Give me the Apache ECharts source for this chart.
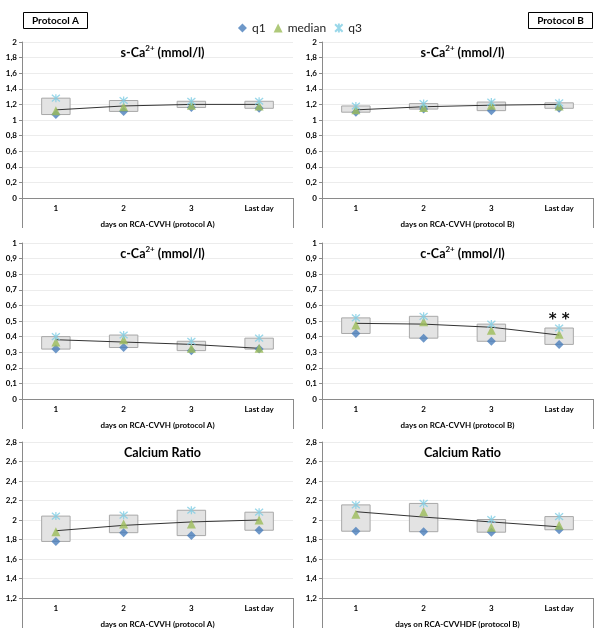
<!DOCTYPE html>
<html>
<head>
<meta charset="utf-8">
<script src="https://cdn.jsdelivr.net/npm/echarts@6/dist/echarts.min.js"></script>
<style>
  html, body { margin: 0; padding: 0; background: #fff; }
  #main { width: 600px; height: 639px; }
</style>
</head>
<body>
<div id="main"></div>
<script>
const days = ["1", "2", "3", "Last day"];

// s-Ca2+ (mmol/l)
const sCaA_q1 = [1.07, 1.11, 1.16, 1.15];
const sCaA_med = [1.12, 1.17, 1.19, 1.18];
const sCaA_q3 = [1.28, 1.25, 1.24, 1.24];
const sCaA_trend = [1.13, 1.18, 1.2, 1.2];
const sCaB_q1 = [1.1, 1.14, 1.12, 1.15];
const sCaB_med = [1.13, 1.16, 1.19, 1.18];
const sCaB_q3 = [1.18, 1.21, 1.23, 1.22];
const sCaB_trend = [1.13, 1.17, 1.19, 1.2];

// c-Ca2+ (mmol/l)
const cCaA_q1 = [0.32, 0.33, 0.31, 0.32];
const cCaA_med = [0.365, 0.38, 0.325, 0.325];
const cCaA_q3 = [0.4, 0.41, 0.37, 0.39];
const cCaA_trend = [0.38, 0.365, 0.35, 0.325];
const cCaB_q1 = [0.42, 0.39, 0.37, 0.35];
const cCaB_med = [0.475, 0.495, 0.44, 0.415];
const cCaB_q3 = [0.52, 0.53, 0.48, 0.455];
const cCaB_trend = [0.485, 0.48, 0.46, 0.41];

// Calcium ratio
const ratioA_q1 = [1.78, 1.87, 1.84, 1.895];
const ratioA_med = [1.88, 1.96, 1.96, 2.0];
const ratioA_q3 = [2.04, 2.05, 2.1, 2.08];
const ratioA_trend = [1.89, 1.945, 1.98, 2.0];
const ratioB_q1 = [1.885, 1.88, 1.875, 1.9];
const ratioB_med = [2.06, 2.085, 1.925, 1.945];
const ratioB_q3 = [2.155, 2.17, 2.005, 2.035];
const ratioB_trend = [2.085, 2.03, 1.98, 1.93];

const xNames = [
  "days on RCA-CVVH (protocol A)", "days on RCA-CVVH (protocol B)",
  "days on RCA-CVVH (protocol A)", "days on RCA-CVVH (protocol B)",
  "days on RCA-CVVH (protocol A)", "days on RCA-CVVHDF (protocol B)"
];
const titles = [
  "{a|s-Ca}{s|2+}{a| (mmol/l)}", "{a|s-Ca}{s|2+}{a| (mmol/l)}",
  "{a|c-Ca}{s|2+}{a| (mmol/l)}", "{a|c-Ca}{s|2+}{a| (mmol/l)}",
  "{a|Calcium Ratio}", "{a|Calcium Ratio}"
];
const yMins = [0, 0, 0, 0, 1.2, 1.2];
const yMaxs = [2, 2, 1, 1, 2.8, 2.8];
const yIntervals = [0.2, 0.2, 0.1, 0.1, 0.2, 0.2];

const panels = [
  { q1: sCaA_q1, med: sCaA_med, q3: sCaA_q3, trend: sCaA_trend },
  { q1: sCaB_q1, med: sCaB_med, q3: sCaB_q3, trend: sCaB_trend },
  { q1: cCaA_q1, med: cCaA_med, q3: cCaA_q3, trend: cCaA_trend },
  { q1: cCaB_q1, med: cCaB_med, q3: cCaB_q3, trend: cCaB_trend },
  { q1: ratioA_q1, med: ratioA_med, q3: ratioA_q3, trend: ratioA_trend },
  { q1: ratioB_q1, med: ratioB_med, q3: ratioB_q3, trend: ratioB_trend }
];

const FONT = "Lato, 'DejaVu Sans', sans-serif";
const colLeft = [22, 322];
const rowTop = [42, 243, 442];
const gridW = 271, gridH = 156;
const asterisk = "path://M0,0L10,10M10,0L0,10M5,-1L5,11";

const myChart = echarts.init(document.getElementById("main"));

const grids = [], xAxes = [], yAxes = [], series = [], titleList = [];
panels.forEach((p, i) => {
  const left = colLeft[i % 2], top = rowTop[Math.floor(i / 2)];
  grids.push({ left: left, top: top, width: gridW, height: gridH });

  titleList.push({
    text: titles[i],
    left: left + gridW / 2,
    top: top - 3,
    textAlign: "center",
    textStyle: {
      rich: {
        a: { fontFamily: FONT, fontSize: 12.5, fontWeight: "bold", color: "#000", lineHeight: 18 },
        s: { fontFamily: FONT, fontSize: 8, fontWeight: "bold", color: "#000", lineHeight: 8, verticalAlign: "top" }
      }
    }
  });

  // category axis with band separators
  xAxes.push({
    type: "category", gridIndex: i, data: days, position: "bottom",
    axisLine: { lineStyle: { color: "#8a8a8a" } },
    axisTick: { length: 15, lineStyle: { color: "#8a8a8a" } },
    axisLabel: { fontFamily: FONT, fontSize: 8, fontWeight: "bold", color: "#000", margin: 6 },
    name: xNames[i], nameLocation: "middle", nameGap: 22,
    nameTextStyle: { fontFamily: FONT, fontSize: 8, fontWeight: "bold", color: "#000" }
  });
  // outer bracket lines under the axis
  xAxes.push({
    type: "value", gridIndex: i, min: 0, max: 4, interval: 4, position: "bottom",
    axisLine: { show: false },
    axisTick: { show: true, length: 30, lineStyle: { color: "#8a8a8a" } },
    axisLabel: { show: false }, splitLine: { show: false }
  });

  yAxes.push({
    type: "value", gridIndex: i, min: yMins[i], max: yMaxs[i], interval: yIntervals[i],
    axisLine: { show: true, lineStyle: { color: "#8a8a8a" } },
    axisTick: { show: true, length: 3, lineStyle: { color: "#8a8a8a" } },
    axisLabel: {
      fontFamily: FONT, fontSize: 8, fontWeight: "bold", color: "#000", margin: 5,
      formatter: (v) => String(+v.toFixed(1)).replace(".", ",")
    },
    splitLine: { lineStyle: { color: "#ececec" } }
  });

  series.push({
    type: "custom", xAxisIndex: 2 * i, yAxisIndex: i, z: 1,
    data: days.map((d, j) => [j, p.q1[j], p.q3[j]]),
    encode: { x: 0, y: [1, 2] },
    renderItem: (params, api) => {
      const lo = api.coord([api.value(0), api.value(1)]);
      const hi = api.coord([api.value(0), api.value(2)]);
      const w = api.size([1, 0])[0] * 0.42;
      return {
        type: "rect",
        shape: { x: lo[0] - w / 2, y: hi[1], width: w, height: lo[1] - hi[1] },
        style: { fill: "#e3e3e3", stroke: "#a8a8a8", lineWidth: 1 }
      };
    }
  });
  series.push({
    type: "line", xAxisIndex: 2 * i, yAxisIndex: i, z: 2,
    data: p.trend, symbol: "none",
    lineStyle: { color: "#333", width: 1 }
  });
  series.push({
    name: "q1", type: "scatter", xAxisIndex: 2 * i, yAxisIndex: i, z: 3,
    data: p.q1, symbol: "diamond", symbolSize: [9, 9],
    itemStyle: { color: "#4a7ebb" }
  });
  series.push({
    name: "median", type: "scatter", xAxisIndex: 2 * i, yAxisIndex: i, z: 4,
    data: p.med, symbol: "triangle", symbolSize: [9, 9],
    itemStyle: { color: "#9bbb59" }
  });
  const q3 = {
    name: "q3", type: "scatter", xAxisIndex: 2 * i, yAxisIndex: i, z: 5,
    data: p.q3, symbol: asterisk, symbolSize: [8, 8],
    itemStyle: { color: "transparent", borderColor: "#7fcde3", borderWidth: 1.3 }
  };
  if (i === 3) {
    q3.markPoint = {
      symbol: "circle", symbolSize: 0,
      data: [{ coord: [3, 0.505] }],
      label: { show: true, formatter: "* *", fontFamily: "'DejaVu Sans', sans-serif", fontSize: 15, fontWeight: "bold", color: "#111", position: "inside" }
    };
  }
  series.push(q3);
});

myChart.setOption({
  animation: false,
  backgroundColor: "#fff",
  title: titleList,
  legend: {
    data: ["q1", "median", "q3"],
    top: 17, left: "center",
    itemWidth: 9, itemHeight: 9, itemGap: 8,
    textStyle: { fontFamily: FONT, fontSize: 12, color: "#222" }
  },
  graphic: [
    {
      type: "group", left: 23, top: 12,
      children: [
        { type: "rect", shape: { x: 0, y: 0, width: 64, height: 16 }, style: { fill: "#fff", stroke: "#000", lineWidth: 1 } },
        { type: "text", x: 32, y: 8, style: { text: "Protocol A", fontFamily: FONT, fontSize: 10, fontWeight: "bold", fill: "#000", align: "center", verticalAlign: "middle" } }
      ]
    },
    {
      type: "group", left: 528, top: 12,
      children: [
        { type: "rect", shape: { x: 0, y: 0, width: 64, height: 16 }, style: { fill: "#fff", stroke: "#000", lineWidth: 1 } },
        { type: "text", x: 32, y: 8, style: { text: "Protocol B", fontFamily: FONT, fontSize: 10, fontWeight: "bold", fill: "#000", align: "center", verticalAlign: "middle" } }
      ]
    }
  ],
  grid: grids,
  xAxis: xAxes,
  yAxis: yAxes,
  series: series
});
</script>
</body>
</html>
